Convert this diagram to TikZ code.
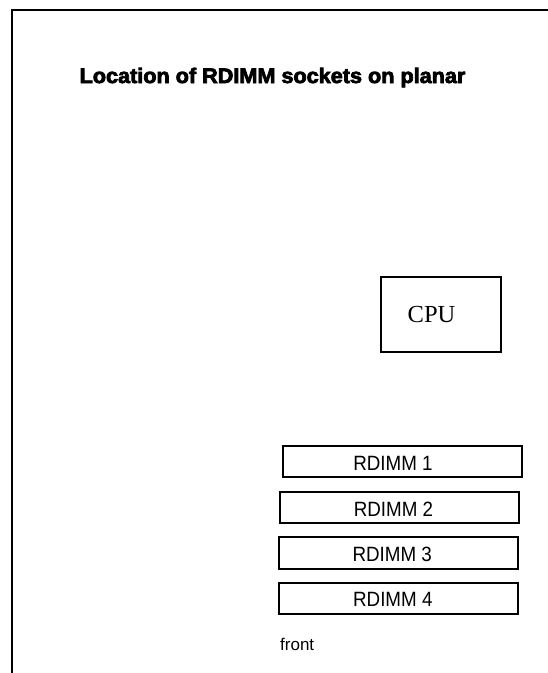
\documentclass[tikz,border=0pt]{standalone}
\usepackage{fontspec}
\setmainfont{Liberation Sans}
\newfontfamily\serifcpu{Liberation Serif}
\newfontfamily\heavyfont[FakeBold=3.5]{Liberation Sans Bold}
\usepackage{graphicx}
\newcommand{\tallbox}[1]{\scalebox{1}[1.1]{#1}}
\begin{document}
\begin{tikzpicture}[x=1pt,y=-1pt,
  framestyle/.style={line width=2pt, line cap=rect},
  boxstyle/.style={draw, line width=2pt, rectangle, inner sep=0pt},
  dimmbox/.style={boxstyle, minimum width=239pt, minimum height=31pt},
  dimmtext/.style={inner sep=0pt, anchor=base, font=\fontsize{18.8}{22}\selectfont},
  cpubox/.style={boxstyle, minimum width=120pt, minimum height=75pt},
  cputext/.style={inner sep=0pt, font=\serifcpu\fontsize{24.5}{28}\selectfont},
  titlestyle/.style={inner sep=0pt, anchor=base, font=\heavyfont\fontsize{21}{24}\selectfont}
]
\useasboundingbox (0,0) rectangle (547,673);
\coordinate (fl) at (12,673);
\coordinate (fc) at (12,10);
\coordinate (fr) at (548,10);
\draw[framestyle] (fl) -- (fc) -- (fr);

\node[titlestyle] (title) at (272.5,83) {\scalebox{1.03}[1]{Location of RDIMM sockets on planar}};

\node[cpubox] (cpu) at (441,314.5) {};
\node[cputext] (cpulabel) at ([xshift=-9.5pt]cpu.center) {CPU};

\node[dimmbox] (d1) at (402,461.5) {};
\node[dimmbox] (d2) at (399.5,507.5) {};
\node[dimmbox, minimum height=32pt] (d3) at (398.8,553) {};
\node[dimmbox] (d4) at (398.8,598.2) {};
\node[dimmtext] (d1t) at ([xshift=-9pt,yshift=-8.5pt]d1.center) {\tallbox{RDIMM 1}};
\node[dimmtext] (d2t) at ([xshift=-6pt,yshift=-8.5pt]d2.center) {\tallbox{RDIMM 2}};
\node[dimmtext] (d3t) at ([xshift=-6.6pt,yshift=-8.5pt]d3.center) {\tallbox{RDIMM 3}};
\node[dimmtext] (d4t) at ([xshift=-6pt,yshift=-8.5pt]d4.center) {\tallbox{RDIMM 4}};

\node[inner sep=0pt, anchor=base west, font=\fontsize{17}{20}\selectfont] (front) at (280,650) {front};
\end{tikzpicture}
\end{document}
